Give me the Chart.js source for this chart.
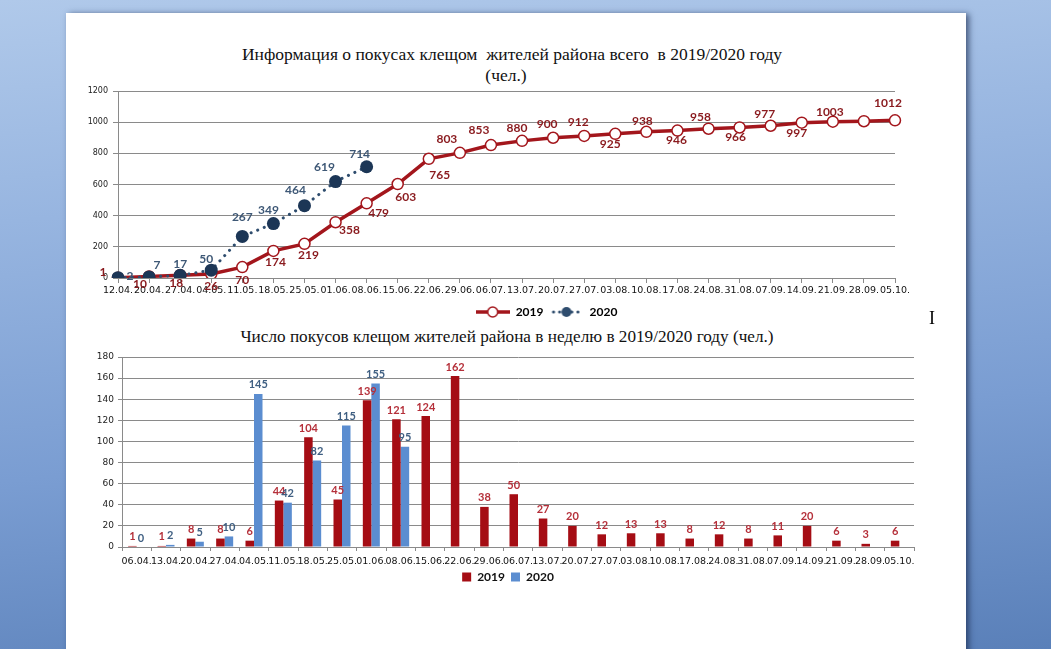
<!DOCTYPE html>
<html>
<head>
<meta charset="utf-8">
<script src="https://cdn.jsdelivr.net/npm/chart.js@4.4.1/dist/chart.umd.min.js"></script>
<style>
html, body { margin: 0; padding: 0; }
body {
    width: 1051px; height: 649px; overflow: hidden; position: relative;
    background: linear-gradient(175deg, #b0c9ea 0%, #97b5e0 30%, #7a9dd2 65%, #5a80b9 100%);
}
#page {
    position: absolute; left: 66px; top: 13px; width: 900px; height: 660px;
    background: #fff; box-shadow: 3px 1px 6px rgba(20, 35, 70, 0.65);
}
.title {
    position: absolute; left: 0; width: 100%; text-align: center; white-space: pre;
    font-family: "Liberation Serif", "Times New Roman", serif; font-size: 17.5px; color: #111;
}
canvas { position: absolute; }
#cursor {
    position: absolute; left: 929px; top: 308px; font-family: "Liberation Serif", serif;
    font-size: 18px; color: #000;
}
</style>
</head>
<body>
<div id="page">
    <div class="title" style="top:31px; left:-4px;">Информация о покусах клещом  жителей района всего  в 2019/2020 году</div>
    <div class="title" style="top:52px; left:-10px;">(чел.)</div>
    <div class="title" style="top:314px; left:-9px; font-size:17.2px;">Число покусов клещом жителей района в неделю в 2019/2020 году (чел.)</div>
</div>
<canvas id="totalChart" style="left:66px; top:80px; width:900px; height:253px;"></canvas>
<canvas id="weekChart" style="left:66px; top:345px; width:900px; height:254px;"></canvas>
<div id="cursor">I</div>

<script>
// ---- data: cumulative (top chart)
const totalDates = ['12.04.', '20.04.', '27.04.', '04.05.', '11.05.', '18.05.', '25.05.', '01.06.', '08.06.',
    '15.06.', '22.06.', '29.06.', '06.07.', '13.07.', '20.07.', '27.07.', '03.08.', '10.08.', '17.08.',
    '24.08.', '31.08.', '07.09.', '14.09.', '21.09.', '28.09.', '05.10.'];
const total2019 = [1, 10, 18, 26, 70, 174, 219, 358, 479, 603, 765, 803, 853, 880, 900, 912, 925, 938, 946,
    958, 966, 977, 997, 1003, 1006, 1012];
const total2020 = [2, 7, 17, 50, 267, 349, 464, 619, 714];
const totalTicks = [0, 200, 400, 600, 800, 1000, 1200];

// ---- data: per week (bottom chart)
const weekDates = ['06.04.', '13.04.', '20.04.', '27.04.', '04.05.', '11.05.', '18.05.', '25.05.', '01.06.',
    '08.06.', '15.06.', '22.06.', '29.06.', '06.07.', '13.07.', '20.07.', '27.07.', '03.08.', '10.08.',
    '17.08.', '24.08.', '31.08.', '07.09.', '14.09.', '21.09.', '28.09.', '05.10.'];
const weekly2019 = [1, 1, 8, 8, 6, 44, 104, 45, 139, 121, 124, 162, 38, 50, 27, 20, 12, 13, 13, 8, 12, 8, 11,
    20, 6, 3, 6];
const weekly2020 = [0, 2, 5, 10, 145, 42, 82, 115, 155, 95];
const weekTicks = [0, 20, 40, 60, 80, 100, 120, 140, 160, 180];

const seriesNames = ['2019', '2020'];

// where the value labels sit relative to their point (dx, dy)
const labelOffs2019 = [[-15, -6], [-9, 8], [-4, 8], [0, 12], [0, 13], [2, 11], [4, 11], [14, 8], [12, 10],
    [8, 13], [11, 16], [-13, -14], [-12, -15], [-5, -13], [-6, -14], [-6, -14], [-5, 10], [-4, -11],
    [-1, 10], [-8, -12], [-4, 10], [-6, -12], [-5, 10], [-3, -10], null, [-7, -17]];
const labelOffs2020 = [[12, -2], [8, -12], [0, -11], [-5, -11], [0, -19], [-5, -13], [-9, -16], [-11, -14],
    [-7, -13]];

const RED = '#a3161c';
const NAVY = '#1c3656';
const tickFont = "'DejaVu Sans', sans-serif";
const labelFont = "Lato, 'DejaVu Sans', sans-serif";

const valueLabels = {
    id: 'valueLabels',
    afterDatasetsDraw(chart) {
        const ctx = chart.ctx;
        chart.data.datasets.forEach((ds, i) => {
            const meta = chart.getDatasetMeta(i);
            ctx.save();
            ctx.font = ds.labelFont;
            ctx.fillStyle = ds.labelColor;
            ctx.textAlign = 'center';
            ctx.textBaseline = 'middle';
            meta.data.forEach((el, j) => {
                const v = ds.data[j];
                if (v == null) return;
                let off = [0, -9];
                if (ds.labelOffs) off = ds.labelOffs[j];
                if (!off) return;
                ctx.fillText(String(v), el.x + off[0], el.y + off[1]);
            });
            ctx.restore();
        });
    }
};

const shiftLegend = {
    id: 'shiftLegend',
    afterLayout(chart, args, opts) {
        const lg = chart.legend;
        if (!lg || !opts.dx) return;
        lg.left += opts.dx;
        lg.right += opts.dx;
    }
};

function legendIcon(color, dotted, filled) {
    const c = document.createElement('canvas');
    c.width = 34; c.height = 14;
    const g = c.getContext('2d');
    g.strokeStyle = color;
    g.lineWidth = dotted ? 3 : 3.5;
    g.lineCap = dotted ? 'round' : 'butt';
    if (dotted) g.setLineDash([0.1, 6]);
    g.beginPath(); g.moveTo(dotted ? 4 : 0, 7); g.lineTo(dotted ? 31 : 34, 7); g.stroke();
    g.setLineDash([]);
    g.beginPath(); g.arc(17, 7, 5, 0, Math.PI * 2);
    g.fillStyle = filled ? color : '#fff';
    g.fill();
    if (!filled) { g.lineWidth = 1.5; g.stroke(); }
    return c;
}

function yAxis(ticks, width, fontSize, tickLen, pad) {
    return {
        min: ticks[0], max: ticks[ticks.length - 1],
        afterFit(scale) { scale.width = width; },
        afterBuildTicks(scale) { scale.ticks = ticks.map(v => ({ value: v })); },
        border: { color: '#8a8a8a', width: 1 },
        grid: { color: '#8a8a8a', lineWidth: 1, tickLength: tickLen, tickColor: '#8a8a8a' },
        ticks: {
            color: '#222', padding: pad, font: { family: tickFont, size: fontSize },
            callback: v => String(v)
        }
    };
}

// ---- top chart
new Chart(document.getElementById('totalChart'), {
    type: 'line',
    data: {
        labels: totalDates,
        datasets: [{
            label: seriesNames[0],
            data: total2019,
            order: 1,
            borderColor: RED,
            borderWidth: 3.5,
            pointRadius: 5.5,
            pointBackgroundColor: '#fff',
            pointBorderColor: RED,
            pointBorderWidth: 1.5,
            labelFont: "bold 12px " + labelFont,
            labelColor: '#8a1a1e',
            labelOffs: labelOffs2019
        }, {
            label: seriesNames[1],
            data: total2020,
            order: 0,
            borderColor: '#2f4d6e',
            borderWidth: 3,
            borderDash: [0.1, 7],
            borderCapStyle: 'round',
            pointRadius: 6.5,
            pointBackgroundColor: NAVY,
            pointBorderColor: NAVY,
            pointBorderWidth: 0,
            labelFont: "bold 12px " + labelFont,
            labelColor: '#3e5876',
            labelOffs: labelOffs2020
        }]
    },
    options: {
        responsive: false,
        animation: false,
        layout: { padding: { left: 0, right: 71, top: 11, bottom: 5 } },
        plugins: {
            title: { display: false },
            tooltip: { enabled: false },
            shiftLegend: { dx: 66 },
            legend: {
                position: 'bottom',
                labels: {
                    usePointStyle: true,
                    pointStyleWidth: 34,
                    padding: 6,
                    color: '#111',
                    font: { family: labelFont, size: 12, weight: 'bold' },
                    generateLabels(chart) {
                        return [
                            { text: seriesNames[0], datasetIndex: 0, pointStyle: legendIcon(RED, false, false), lineWidth: 0, strokeStyle: 'transparent', fillStyle: 'transparent' },
                            { text: seriesNames[1], datasetIndex: 1, pointStyle: legendIcon('#2f4d6e', true, true), lineWidth: 0, strokeStyle: 'transparent', fillStyle: 'transparent' }
                        ];
                    }
                }
            }
        },
        scales: {
            x: {
                afterFit(scale) { scale.height = 22; },
                border: { color: '#8a8a8a', width: 1 },
                grid: { drawOnChartArea: false, tickLength: 5, tickColor: '#8a8a8a' },
                ticks: { color: '#111', autoSkip: false, maxRotation: 0, padding: 2, font: { family: tickFont, size: 9.5 } }
            },
            y: yAxis(totalTicks, 52, 8, 5, 5)
        }
    },
    plugins: [valueLabels, shiftLegend]
});

// ---- bottom chart
new Chart(document.getElementById('weekChart'), {
    type: 'bar',
    data: {
        labels: weekDates,
        datasets: [{
            label: seriesNames[0],
            data: weekly2019,
            backgroundColor: '#a50d14',
            labelFont: "bold 11px " + labelFont,
            labelColor: '#b5303a'
        }, {
            label: seriesNames[1],
            data: weekly2020,
            backgroundColor: '#5b8dd0',
            labelFont: "bold 11px " + labelFont,
            labelColor: '#3f5f82'
        }]
    },
    options: {
        responsive: false,
        animation: false,
        categoryPercentage: 0.58,
        barPercentage: 1.0,
        layout: { padding: { left: 0, right: 52, top: 12, bottom: 6 } },
        plugins: {
            tooltip: { enabled: false },
            shiftLegend: { dx: 18 },
            legend: {
                position: 'bottom',
                labels: {
                    boxWidth: 9, boxHeight: 9, padding: 6, color: '#111',
                    font: { family: labelFont, size: 12, weight: 'bold' }
                }
            }
        },
        scales: {
            x: {
                afterFit(scale) { scale.height = 18; },
                border: { color: '#8a8a8a', width: 1 },
                grid: { drawOnChartArea: false, tickLength: 4, tickColor: '#8a8a8a' },
                ticks: { color: '#111', autoSkip: false, maxRotation: 0, padding: 5, font: { family: tickFont, size: 9.5 } }
            },
            y: yAxis(weekTicks, 56, 9, 4, 4)
        }
    },
    plugins: [valueLabels, shiftLegend]
});
</script>
</body>
</html>
